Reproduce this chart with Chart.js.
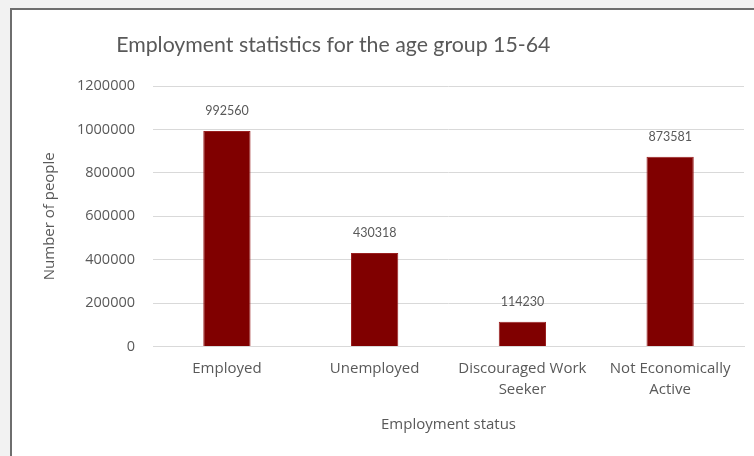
<!DOCTYPE html>
<html>
<head>
<meta charset="utf-8">
<script src="https://cdn.jsdelivr.net/npm/chart.js@4/dist/chart.umd.min.js"></script>
<style>
    html, body { margin: 0; padding: 0; background: #f2f2f2; width: 754px; height: 456px; overflow: hidden; }
    .frame { position: absolute; left: 10px; top: 8px; width: 760px; height: 460px; background: #fff; border: 2px solid #6e6e6e; }
    #chart { position: absolute; left: 0; top: 0; }
</style>
</head>
<body>
<div class="frame"></div>
<canvas id="chart" width="754" height="456"></canvas>
<script>
// ========== DATA ==========
const categories = ['Employed', 'Unemployed', ['Discouraged Work', 'Seeker'], ['Not Economically', 'Active']];
const people = [992560, 430318, 114230, 873581];
const yTicks = [0, 200000, 400000, 600000, 800000, 1000000, 1200000];

const TITLE = 'Employment statistics for the age group 15-64';
const FONT = 'Lato, "Open Sans", sans-serif';
const WIDE = '"Open Sans", sans-serif';
const TEXT = '#595959';

// value labels above each bar + the chart title (sits left of centre in the original)
const barLabels = {
    id: 'barLabels',
    afterDatasetsDraw(chart) {
        const ctx = chart.ctx;
        const meta = chart.getDatasetMeta(0);
        ctx.save();
        ctx.font = `12.5px ${FONT}`;
        ctx.fillStyle = TEXT;
        ctx.textAlign = 'center';
        ctx.textBaseline = 'middle';
        meta.data.forEach((bar, i) => {
            ctx.fillText(String(people[i]), bar.x, bar.y - 20);
        });
        ctx.font = `21.3px ${FONT}`;
        ctx.fillText(TITLE, chart.width * 0.442, 45);
        ctx.restore();
    }
};

new Chart(document.getElementById('chart'), {
    type: 'bar',
    data: {
        labels: categories,
        datasets: [{
            data: people,
            backgroundColor: '#800000',
            borderColor: '#9a2020',
            borderWidth: 1,
            barPercentage: 0.64,
            categoryPercentage: 0.5
        }]
    },
    options: {
        responsive: false,
        animation: false,
        layout: { padding: { left: 37, right: 10, top: 86, bottom: 18 } },
        plugins: {
            legend: { display: false },
            tooltip: { enabled: false },
            title: { display: false }
        },
        scales: {
            x: {
                grid: { display: false, drawTicks: false },
                border: { color: '#d9d9d9' },
                ticks: { color: TEXT, font: { family: WIDE, size: 15, lineHeight: 1.45 }, padding: 11, maxRotation: 0, autoSkip: false },
                title: { display: true, text: 'Employment status', color: TEXT, font: { family: WIDE, size: 15, lineHeight: 1.2 }, padding: { top: 4, bottom: 4 } }
            },
            y: {
                min: 0,
                max: 1200000,
                afterBuildTicks: axis => { axis.ticks = yTicks.map(v => ({ value: v })); },
                grid: { color: '#d9d9d9', drawTicks: false },
                border: { display: false },
                ticks: { color: TEXT, font: { family: WIDE, size: 14.5 }, padding: 18, callback: v => String(v) },
                title: { display: true, text: 'Number of people', color: TEXT, font: { family: WIDE, size: 15, lineHeight: 1.2 }, padding: { top: 4, bottom: 0 } }
            }
        }
    },
    plugins: [barLabels]
});
</script>
</body>
</html>
